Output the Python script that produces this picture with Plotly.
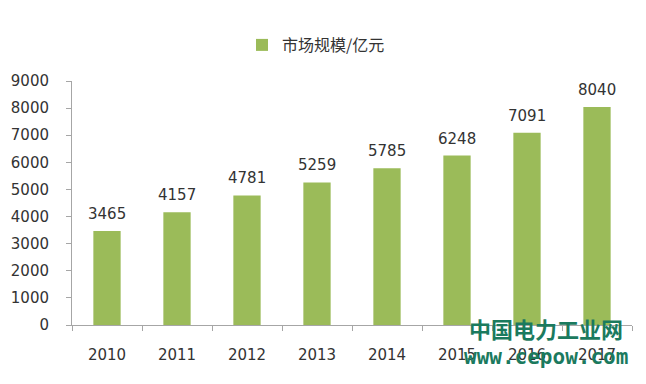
import plotly.graph_objects as go

years = ["2010", "2011", "2012", "2013", "2014", "2015", "2016", "2017"]
market_size = [3465, 4157, 4781, 5259, 5785, 6248, 7091, 8040]
series_name = "市场规模/亿元"
y_ticks = [0, 1000, 2000, 3000, 4000, 5000, 6000, 7000, 8000, 9000]

bar_color = "#9BBB59"
axis_color = "#A6A6A6"
text_color = "#333333"
wm_color = "#1B7A5E"

fig = go.Figure()
fig.add_trace(go.Bar(
    x=years, y=market_size, name=series_name,
    marker=dict(color=bar_color, line=dict(width=0)),
    showlegend=True,
))

# data labels (category index positions on the category axis)
for i, v in enumerate(market_size):
    fig.add_annotation(x=i, y=v, text=str(v), showarrow=False,
                       yanchor="bottom", yshift=6,
                       font=dict(family="DejaVu Sans", size=15, color=text_color))

# watermark
fig.add_annotation(xref="paper", yref="paper", x=(546 - 72) / 560, y=0, text="中国电力工业网",
                   showarrow=False, xanchor="center", yanchor="middle", yshift=-3,
                   font=dict(family="Noto Sans CJK SC", size=22, color=wm_color, weight="bold"))
fig.add_annotation(xref="paper", yref="paper", x=(546 - 72) / 560, y=0, text="www.cepow.com",
                   showarrow=False, xanchor="center", yanchor="middle", yshift=-32,
                   font=dict(family="DejaVu Sans Mono", size=21, color=wm_color, weight="bold"))

fig.update_layout(
    width=646, height=384,
    margin=dict(l=72, r=14, t=81, b=59, autoexpand=False),
    paper_bgcolor="white", plot_bgcolor="white",
    bargap=0.61,
    font=dict(family="DejaVu Sans", color=text_color),
    showlegend=True,
    legend=dict(orientation="h", xref="container", yref="container",
                x=242/646, xanchor="left", y=1 - 28/384, yanchor="top",
                font=dict(family="Noto Sans CJK SC", size=16, color=text_color),
                bgcolor="rgba(0,0,0,0)"),
    xaxis=dict(type="category", categoryorder="array", categoryarray=years,
               range=[-0.5, len(years) - 0.5],
               showline=True, linecolor=axis_color, linewidth=1,
               ticks="outside", tickson="boundaries", ticklen=5, tickcolor=axis_color,
               showgrid=False, ticklabelstandoff=16, tickangle=0,
               tickfont=dict(family="DejaVu Sans", size=15, color=text_color)),
    yaxis=dict(range=[0, 9000], tickvals=y_ticks, showline=True, linecolor=axis_color,
               linewidth=1, ticks="outside", ticklen=5, tickcolor=axis_color,
               showgrid=False, zeroline=False, ticklabelstandoff=14,
               tickfont=dict(family="DejaVu Sans", size=15, color=text_color)),
)

fig.write_html("out.html")
